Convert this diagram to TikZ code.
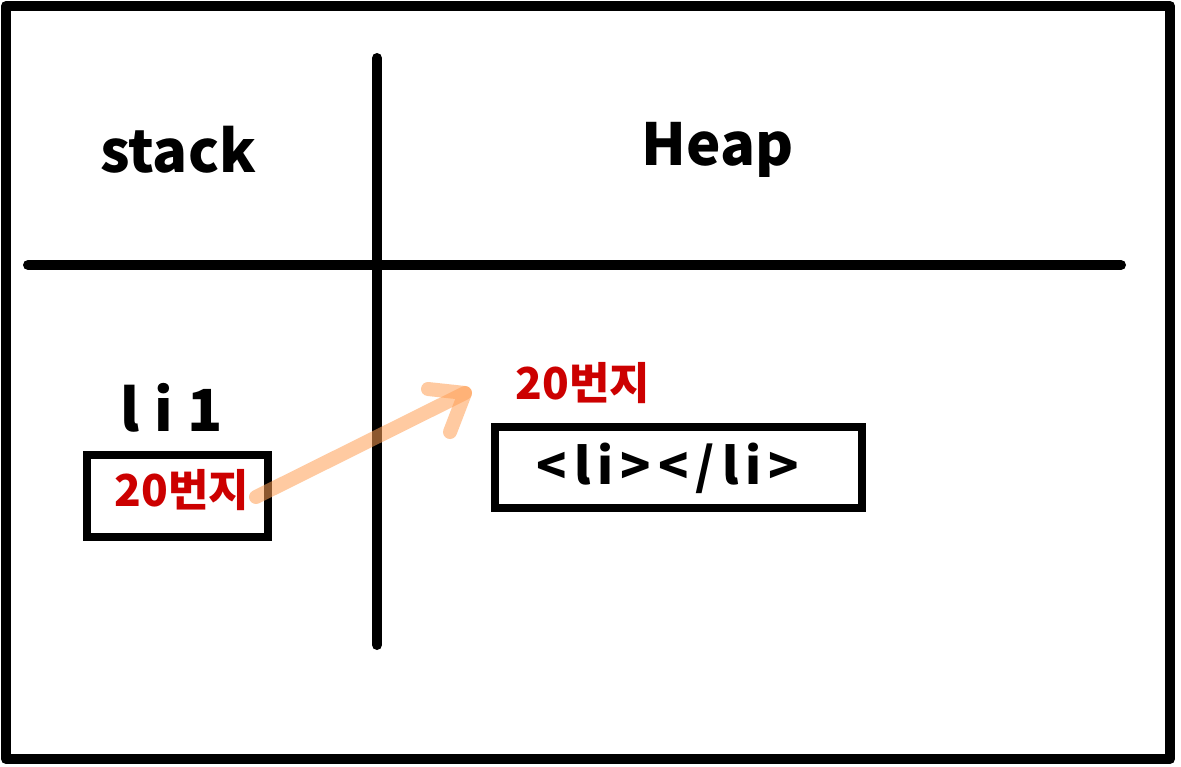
\documentclass[tikz,border=0pt]{standalone}
\usepackage{fontspec}
\setmainfont{Noto Sans CJK KR}
\usetikzlibrary{positioning}
\definecolor{penred}{RGB}{204,0,0}
\definecolor{arroworange}{RGB}{255,160,85}
\tikzset{
  frame/.style={line width=10pt, line join=round},
  rule/.style={line width=10pt, line cap=round},
  cell/.style={draw, line width=8pt, rectangle, inner sep=0pt},
  label/.style={font=\fontsize{58}{64}\selectfont\bfseries, text=black, inner sep=0pt},
  addr/.style={font=\fontsize{44}{50}\selectfont\bfseries, text=penred, inner sep=0pt},
  pointer/.style={draw=arroworange, line width=14pt, line cap=round, line join=round, draw opacity=0.55}
}
\begin{document}
\begin{tikzpicture}[x=1pt,y=-1pt]
  \useasboundingbox (0,0) rectangle (1181,766);
  \fill[white] (0,0) rectangle (1181,766);
  % outer frame
  \draw[frame] (6,6) rectangle (1170,759);
  % dividing lines
  \coordinate (vtop) at (377,58);
  \coordinate (vbot) at (377,645);
  \coordinate (hleft) at (28,265);
  \coordinate (hright) at (1121,265);
  \draw[rule] (vtop) -- (vbot);
  \draw[rule] (hleft) -- (hright);
  % headings
  \node[label] (stack) at (178,150) {stack};
  \node[label] (heap) at (718,150) {Heap};
  % stack variable
  \node[label, font=\fontsize{58}{64}\selectfont\bfseries\addfontfeatures{LetterSpace=25}] (li1) at (172,408) {li1};
  \node[cell, minimum width=181pt, minimum height=82pt] (sbox) at (177.5,496) {};
  \node[addr] (saddr) at (182,490) {20번지};
  % heap object
  \node[addr] (haddr) at (583,383) {20번지};
  \node[cell, minimum width=367pt, minimum height=81pt] (hbox) at (678.5,467.5) {};
  \node[font=\fontsize{50}{56}\selectfont\bfseries\addfontfeatures{LetterSpace=14}, inner sep=0pt] (htext) at (668,468) {<li></li>};
  % pointer arrow
  \coordinate (pstart) at (256,497);
  \coordinate (ptip) at (465,393);
  \coordinate (pwing1) at (428,389);
  \coordinate (pwing2) at (450,432);
  \draw[pointer] (pstart) -- (ptip);
  \draw[pointer] (pwing1) -- (ptip) -- (pwing2);
\end{tikzpicture}
\end{document}
